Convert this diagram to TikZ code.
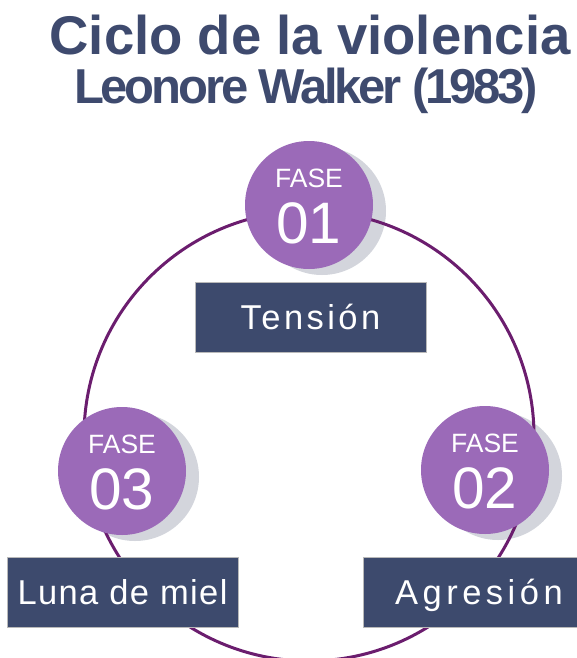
\documentclass[tikz,border=0pt]{standalone}
\usepackage{fontspec}
\setmainfont{Liberation Sans}
\definecolor{titleblue}{HTML}{3E4A6E}
\definecolor{boxblue}{HTML}{3D4A6D}
\definecolor{phasepurple}{HTML}{9B6AB8}
\definecolor{cycleline}{HTML}{6B1D6E}
\definecolor{shadowgray}{HTML}{D3D5DC}
\begin{document}
\begin{tikzpicture}[x=1pt,y=-1pt,
    phase/.style={circle, fill=phasepurple, minimum size=128pt, inner sep=0pt},
    stagebox/.style={fill=boxblue, draw=gray!55, line width=0.6pt, minimum width=231pt, minimum height=70pt,
      inner sep=0pt, text=white, text height=24pt, text depth=0pt, font=\fontsize{34.5}{34.5}\selectfont},
    fase/.style={anchor=base, inner sep=0pt, text=white, font=\fontsize{26.5}{26.5}\selectfont},
    num/.style={anchor=base, inner sep=0pt, text=white, font=\fontsize{58.5}{58.5}\selectfont}]
  \useasboundingbox (0,0) rectangle (577,658);

  % Title
  \node[anchor=base, inner sep=0pt, text=titleblue, font=\bfseries\fontsize{54.5}{54.5}\selectfont] (title) at (310,55) {Ciclo de la violencia};
  \node[anchor=base, inner sep=0pt, text=titleblue, font=\bfseries\fontsize{49}{49}\selectfont\addfontfeature{LetterSpace=-6.5}] (author) at (306,104) {Leonore Walker (1983)};

  % Shadows
  \foreach \x/\y in {309/205, 485/470, 122/471}
    \fill[shadowgray] (\x+13,\y+6) circle (64pt);

  % Cycle
  \draw[cycleline, line width=3pt] (309,436) circle (225pt);

  % Phases
  \foreach \i/\x/\y in {1/309/205, 2/485/470, 3/122/471}{
    \node[phase] (p\i) at (\x,\y) {};
    \node[fase] (f\i) at ([yshift=18pt]p\i.center) {FASE};
    \node[num] (n\i) at ([yshift=-38pt]p\i.center) {0\i};
  }

  % Stages
  \node[stagebox] (tension) at (310.5,317) {\addfontfeature{LetterSpace=10}Tensión};
  \node[stagebox] (agresion) at (479,592.5) {\addfontfeature{LetterSpace=13}Agresión};
  \node[stagebox] (lunamiel) at (122.5,592.5) {\addfontfeature{LetterSpace=4}Luna de miel};
\end{tikzpicture}
\end{document}
